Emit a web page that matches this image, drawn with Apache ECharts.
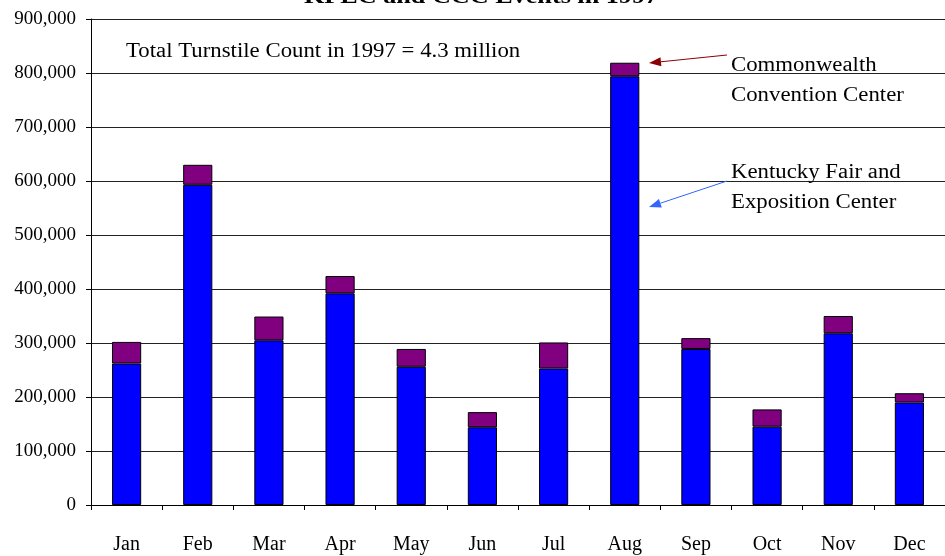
<!DOCTYPE html>
<html>
<head>
<meta charset="utf-8">
<script src="https://cdn.jsdelivr.net/npm/echarts@6/dist/echarts.min.js"></script>
<style>
  html, body { margin: 0; padding: 0; background: #fff; }
  #main { width: 945px; height: 556px; }
</style>
</head>
<body>
<div id="main"></div>
<script>
// monthly turnstile counts, 1997
const months = ['Jan', 'Feb', 'Mar', 'Apr', 'May', 'Jun', 'Jul', 'Aug', 'Sep', 'Oct', 'Nov', 'Dec']
const kfec = [262000, 593000, 305000, 392000, 256000, 144000, 253000, 794000, 289000, 145000, 318000, 190000]
const ccc = [40000, 37000, 44000, 32000, 33000, 28000, 48000, 25000, 20000, 32000, 32000, 17000]

const serif = '"Liberation Serif", "Times New Roman", serif'

// little arrow helper for the callouts (line + triangle head)
function arrow(x1, y1, x2, y2, color) {
  const ang = Math.atan2(y2 - y1, x2 - x1)
  const len = 12, half = 4.5
  const bx = x2 - len * Math.cos(ang), by = y2 - len * Math.sin(ang)
  const px = -Math.sin(ang) * half, py = Math.cos(ang) * half
  return [
    { type: 'line', shape: { x1: x1, y1: y1, x2: bx, y2: by }, style: { stroke: color, lineWidth: 1 }, z: 100 },
    { type: 'polygon', shape: { points: [[x2, y2], [bx + px, by + py], [bx - px, by - py]] }, style: { fill: color }, z: 100 }
  ]
}

// text in the original is a bit wider than Liberation Serif, so stretch it
function label(x, y, text, size, opts) {
  opts = opts || {}
  return {
    type: 'text',
    x: x,
    y: y,
    scaleX: opts.sx || 1.14,
    originX: 0,
    originY: 0,
    z: 100,
    style: {
      text: text,
      font: (opts.bold ? 'bold ' : '') + size + 'px ' + serif,
      fill: '#000',
      align: opts.align || 'left',
      verticalAlign: 'middle'
    }
  }
}

const myChart = echarts.init(document.getElementById('main'))
myChart.setOption({
  animation: false,
  grid: { left: 91, right: 0, top: 19, bottom: 51, containLabel: false },
  xAxis: {
    type: 'category',
    data: months,
    axisLine: { lineStyle: { color: '#000', width: 1 } },
    axisTick: { show: true, length: 5, lineStyle: { color: '#000' } },
    axisLabel: { margin: 30, fontFamily: serif, fontSize: 20, color: '#000' }
  },
  yAxis: {
    type: 'value',
    min: 0,
    max: 900000,
    interval: 100000,
    axisLine: { show: true, lineStyle: { color: '#000', width: 1 } },
    axisTick: { show: true, length: 5, lineStyle: { color: '#000' } },
    axisLabel: {
      margin: 15,
      fontFamily: serif,
      fontSize: 19,
      color: '#000',
      formatter: (v) => v.toLocaleString('en-US')
    },
    splitLine: { show: true, lineStyle: { color: '#222', width: 1 } }
  },
  series: [
    {
      name: 'Kentucky Fair and Exposition Center',
      type: 'bar',
      stack: 'total',
      barWidth: '41%',
      itemStyle: { color: '#0000ff', borderColor: '#000', borderWidth: 1 },
      data: kfec
    },
    {
      name: 'Commonwealth Convention Center',
      type: 'bar',
      stack: 'total',
      itemStyle: { color: '#800080', borderColor: '#000', borderWidth: 1 },
      data: ccc
    }
  ],
  graphic: [
    label(481, -3, 'KFEC and CCC Events in 1997', 22, { bold: true, align: 'center', sx: 1.19 }),
    label(126, 52, 'Total Turnstile Count in 1997 = 4.3 million', 20),
    label(731, 66, 'Commonwealth', 20),
    label(731, 95.5, 'Convention Center', 20),
    label(731, 172.5, 'Kentucky Fair and', 20),
    label(731, 203, 'Exposition Center', 20)
  ].concat(arrow(727, 55, 649, 63, '#8b0000'), arrow(727, 181, 649, 207, '#3366ff'))
})
</script>
</body>
</html>
